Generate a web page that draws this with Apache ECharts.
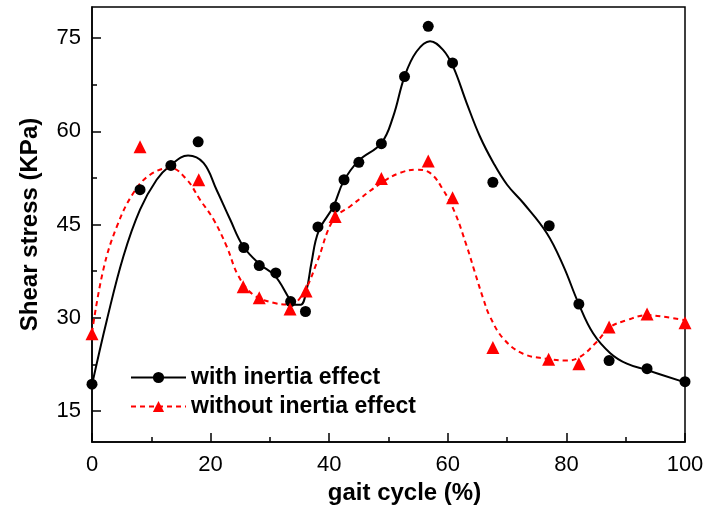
<!DOCTYPE html>
<html>
<head>
<meta charset="utf-8">
<script src="https://cdn.jsdelivr.net/npm/echarts@6/dist/echarts.min.js"></script>
<style>html,body{margin:0;padding:0;background:#fff}#c{width:710px;height:511px}</style>
</head>
<body>
<div id="c"></div>
<script>
// Measured data points (gait cycle %, shear stress KPa)
const withX = [0, 8.1, 13.3, 17.9, 25.6, 28.2, 31.0, 33.5, 36.0, 38.1, 41.0, 42.5, 45.0, 48.8, 52.7, 56.7, 60.8, 67.6, 77.1, 82.1, 87.2, 93.6, 100];
const withY = [19.3, 50.6, 54.5, 58.3, 41.3, 38.4, 37.2, 32.6, 31.0, 44.6, 47.8, 52.2, 55.0, 58.0, 68.8, 76.9, 71.0, 51.8, 44.8, 32.2, 23.1, 21.8, 19.7];
const withoutX = [0, 8.1, 18.0, 25.5, 28.2, 33.4, 36.1, 41.0, 48.8, 56.7, 60.8, 67.6, 77.0, 82.1, 87.2, 93.6, 100];
const withoutY = [27.4, 57.5, 52.2, 35.0, 33.2, 31.4, 34.3, 46.3, 52.4, 55.2, 49.3, 25.2, 23.3, 22.6, 28.5, 30.6, 29.2];

// Fitted curves
const withCurveX = [0, 2.5, 5.3, 8.1, 10.9, 13.2, 16.2, 18.8, 21.0, 23.3, 25.5, 28.3, 30.9, 33.4, 34.2, 35.2, 36.2, 37.0, 38.2, 40.7, 42.4, 44.9, 48.8, 50.8, 52.7, 54.7, 57.0, 59.2, 60.9, 63.2, 65.4, 67.7, 70.0, 72.7, 76.7, 79.5, 82.0, 84.5, 87.4, 90.2, 93.5, 100];
const withCurveY = [19.2, 29.6, 39.9, 47.4, 52.2, 54.5, 56.1, 54.9, 50.6, 45.8, 41.5, 38.6, 36.7, 32.9, 32.1, 32.1, 34.5, 38.8, 43.9, 47.9, 51.9, 55.2, 58.1, 62.4, 68.8, 72.8, 74.5, 73.1, 70.4, 64.5, 59.2, 54.9, 51.4, 48.5, 43.6, 38.3, 32.4, 27.5, 24.3, 22.6, 21.6, 19.6];
const withoutCurveX = [0, 1.9, 4.2, 7.0, 9.8, 13.2, 16.0, 18.2, 20.5, 22.7, 24.7, 27.2, 30.6, 33.4, 35.6, 37.9, 40.7, 43.5, 48.8, 51.9, 54.7, 57.0, 59.2, 61.2, 63.2, 64.5, 66.0, 67.1, 69.4, 72.7, 76.7, 80.0, 82.3, 85.1, 87.4, 90.2, 93.5, 96.8, 100];
const withoutCurveY = [27.6, 37.7, 44.7, 50.1, 53.0, 54.1, 52.2, 49.0, 45.8, 41.5, 36.7, 33.7, 32.4, 32.1, 33.9, 38.8, 45.8, 47.9, 51.7, 53.3, 53.8, 53.3, 50.6, 46.9, 41.5, 37.5, 33.0, 30.2, 26.6, 24.2, 23.4, 23.1, 23.7, 26.1, 28.5, 29.6, 30.4, 30.1, 29.6];

const yMajorTicks = [15, 30, 45, 60, 75];
const yMinorTicks = [22.5, 37.5, 52.5, 67.5];

const seriesNames = ['with inertia effect', 'without inertia effect'];
const xName = 'gait cycle (%)';
const yName = 'Shear stress (KPa)';

const zip = (a, b) => a.map((v, i) => [v, b[i]]);
const FONT = "'Liberation Sans', Arial, sans-serif";

const chart = echarts.init(document.getElementById('c'), null, {renderer: 'canvas'});
chart.setOption({
  animation: false,
  backgroundColor: '#fff',
  textStyle: {fontFamily: FONT},
  grid: {left: 92, right: 25, top: 7, bottom: 69, show: true, borderColor: '#000', borderWidth: 1.5, backgroundColor: 'transparent'},
  legend: {
    left: 125, top: 361, orient: 'vertical', selectedMode: false,
    itemWidth: 55, itemHeight: 14, itemGap: 6,
    textStyle: {fontSize: 23, fontWeight: 'bold', color: '#000', fontFamily: FONT, lineHeight: 23},
    data: seriesNames
  },
  xAxis: {
    type: 'value', min: 0, max: 100, interval: 20,
    name: xName, nameLocation: 'middle', nameGap: 37,
    nameTextStyle: {fontSize: 24, fontWeight: 'bold', color: '#000', fontFamily: FONT, padding: [0, 0, 0, 32]},
    axisLine: {show: true, lineStyle: {color: '#000', width: 1.5}},
    axisTick: {show: true, inside: true, length: 9, lineStyle: {color: '#000', width: 1.5}},
    minorTick: {show: true, splitNumber: 2, length: 5, lineStyle: {color: '#000', width: 1.5}},
    axisLabel: {fontSize: 22, color: '#000', margin: 12, fontFamily: FONT},
    splitLine: {show: false}
  },
  yAxis: [{
    type: 'value', min: 10, max: 80,
    name: yName, nameLocation: 'middle', nameGap: 50,
    nameTextStyle: {fontSize: 24, fontWeight: 'bold', color: '#000', fontFamily: FONT},
    axisLine: {show: true, lineStyle: {color: '#000', width: 1.5}},
    axisTick: {show: true, inside: true, length: 9, customValues: yMajorTicks, lineStyle: {color: '#000', width: 1.5}},
    axisLabel: {fontSize: 22, color: '#000', margin: 11, customValues: yMajorTicks, fontFamily: FONT},
    splitLine: {show: false}
  }, {
    type: 'value', min: 10, max: 80, position: 'left', offset: 0,
    axisLine: {show: false},
    axisTick: {show: true, inside: true, length: 5, customValues: yMinorTicks, lineStyle: {color: '#000', width: 1.5}},
    axisLabel: {show: false},
    splitLine: {show: false}
  }],
  series: [{
    name: seriesNames[0], type: 'line', data: zip(withCurveX, withCurveY),
    smooth: 0.4, symbol: 'circle', symbolSize: 11, showSymbol: false,
    lineStyle: {color: '#000', width: 2}, itemStyle: {color: '#000'}, silent: true, z: 2
  }, {
    name: seriesNames[1], type: 'line', data: zip(withoutCurveX, withoutCurveY),
    smooth: 0.4, symbol: 'triangle', symbolSize: 13, showSymbol: false,
    lineStyle: {color: '#ff0000', width: 2, type: [5, 4]}, itemStyle: {color: '#ff0000'}, silent: true, z: 2
  }, {
    name: seriesNames[0] + ' data', type: 'scatter', data: zip(withX, withY),
    symbol: 'circle', symbolSize: 11, itemStyle: {color: '#000', opacity: 1}, clip: false, z: 3
  }, {
    name: seriesNames[1] + ' data', type: 'scatter', data: zip(withoutX, withoutY),
    symbol: 'triangle', symbolSize: 13, itemStyle: {color: '#ff0000', opacity: 1}, clip: false, z: 3
  }]
});
</script>
</body>
</html>
